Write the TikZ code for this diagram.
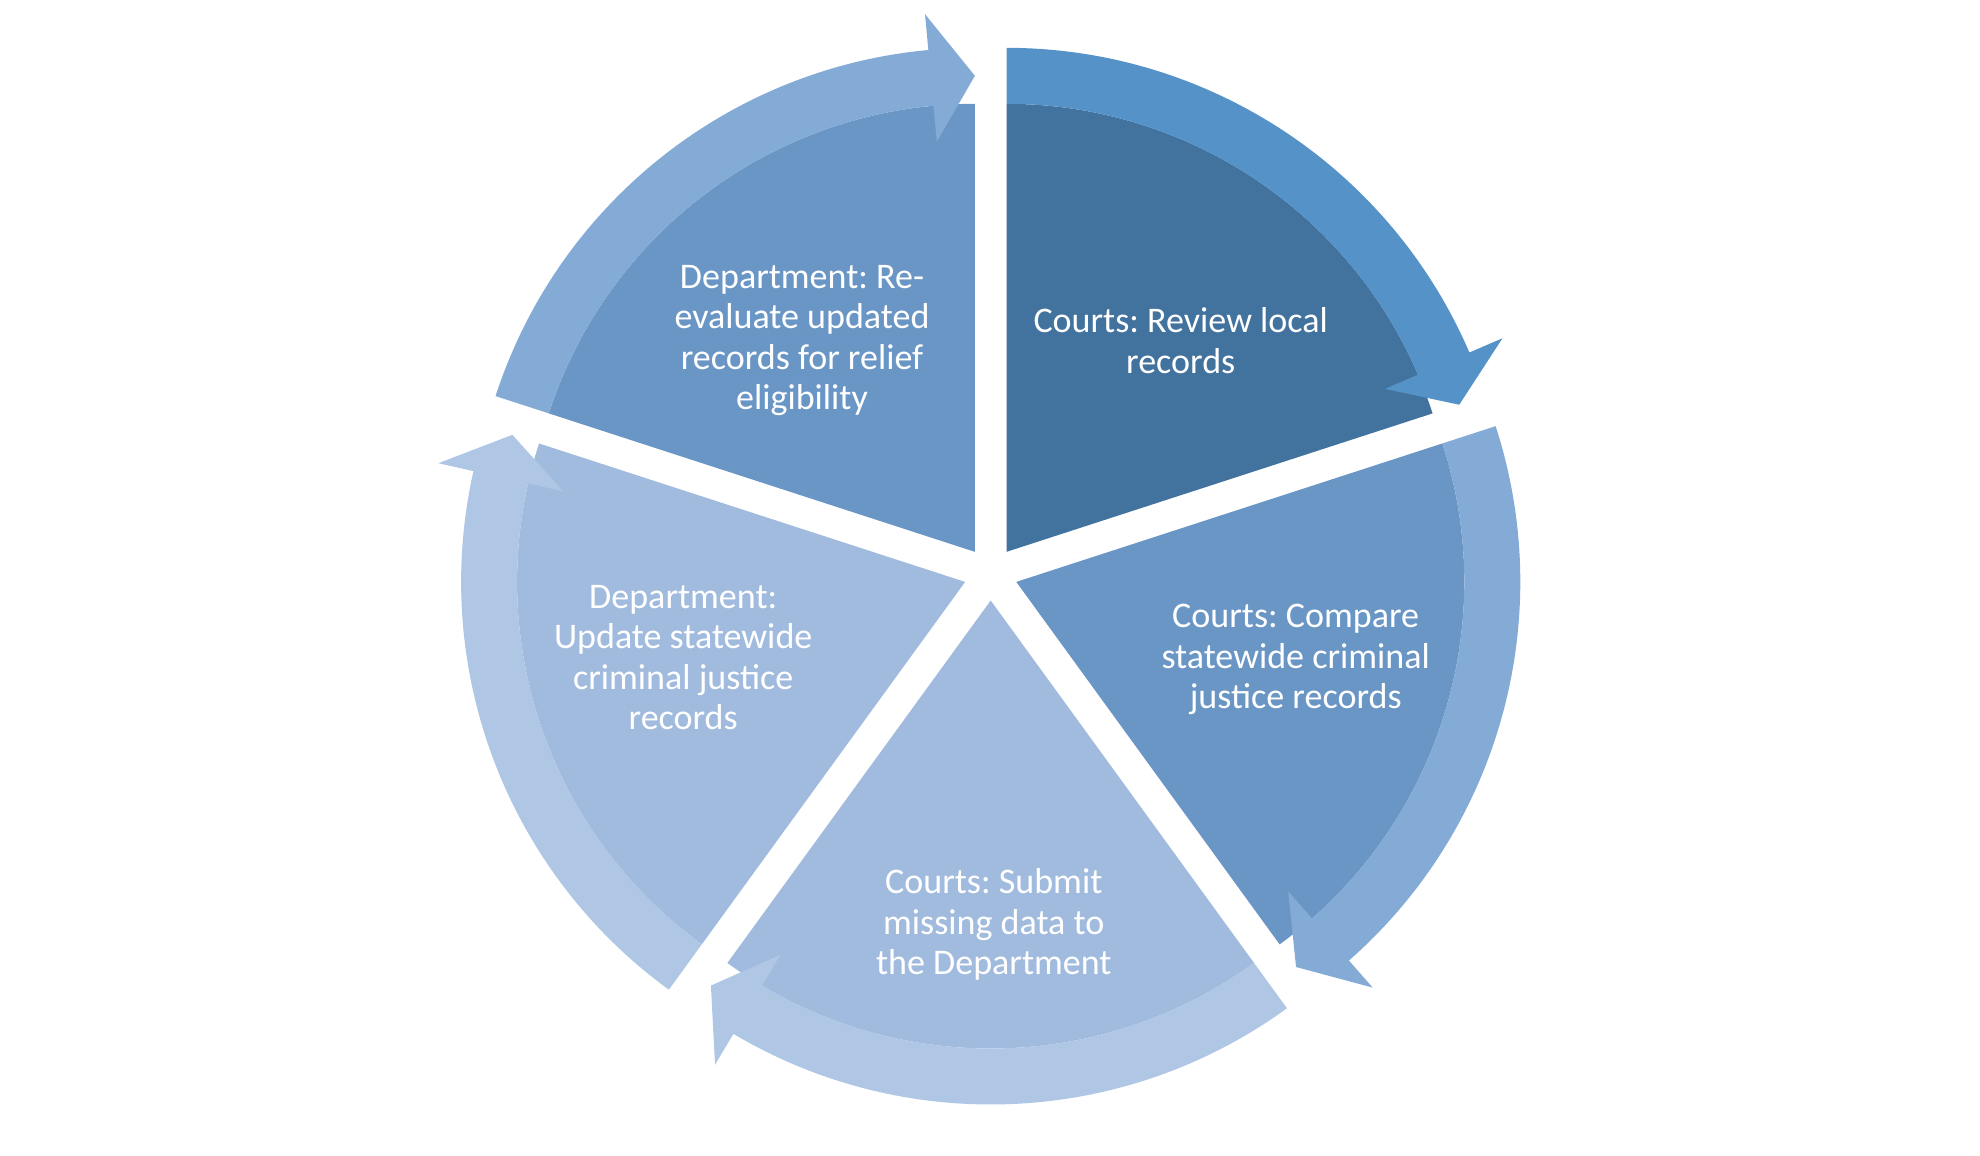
\documentclass[tikz,border=0pt]{standalone}
\usepackage{fontspec}
\setmainfont{Carlito}
\frenchspacing
\definecolor{segDark}{RGB}{66,114,158}
\definecolor{segMid}{RGB}{106,150,198}
\definecolor{segLight}{RGB}{161,187,223}
\definecolor{arrDark}{RGB}{85,146,200}
\definecolor{arrMid}{RGB}{132,171,214}
\definecolor{arrLight}{RGB}{175,199,228}
\usetikzlibrary{positioning}

\begin{document}
\begin{tikzpicture}[x=0.01cm, y=0.01cm,
    steptext/.style={text=white, align=center, font=\fontsize{10.25}{11.5}\selectfont}]
  \useasboundingbox (-990.7,-581.4) rectangle (989.3,573.6);

  % Segments with their arrows (start angle / segment colour / arrow colour)
  \foreach \a/\wc/\ac in {90/segDark/arrDark, 18/segMid/arrMid, -54/segLight/arrLight,
                          -126/segLight/arrLight, -198/segMid/arrMid} {
    \begin{scope}[shift={(\a-36:26.9)}]
      \fill[\wc] (0,0) -- (\a:448) arc[start angle=\a, end angle=\a-72, radius=448] -- cycle;
      \fill[\ac] (\a:448) -- (\a:504) arc[start angle=\a, end angle=\a-66.7, radius=504]
        -- (\a-66.7:540) -- (\a-72:476) -- (\a-66.7:412) -- (\a-66.7:448)
        arc[start angle=\a-66.7, end angle=\a, radius=448] -- cycle;
    \end{scope}
  }

  % Labels
  \node[steptext] (review) at (190,233) {Courts: Review local\\records};
  \node[steptext] (compare) at (305,-86) {Courts: Compare\\statewide criminal\\justice records};
  \node[steptext] (submit) at (3.1,-351) {Courts: Submit\\missing data to\\the Department};
  \node[steptext] (update) at (-307.5,-84) {Department:\\Update statewide\\criminal justice\\records};
  \node[steptext] (reevaluate) at (-188.7,233) {Department: Re-\\evaluate updated\\records for relief\\eligibility};
\end{tikzpicture}
\end{document}
